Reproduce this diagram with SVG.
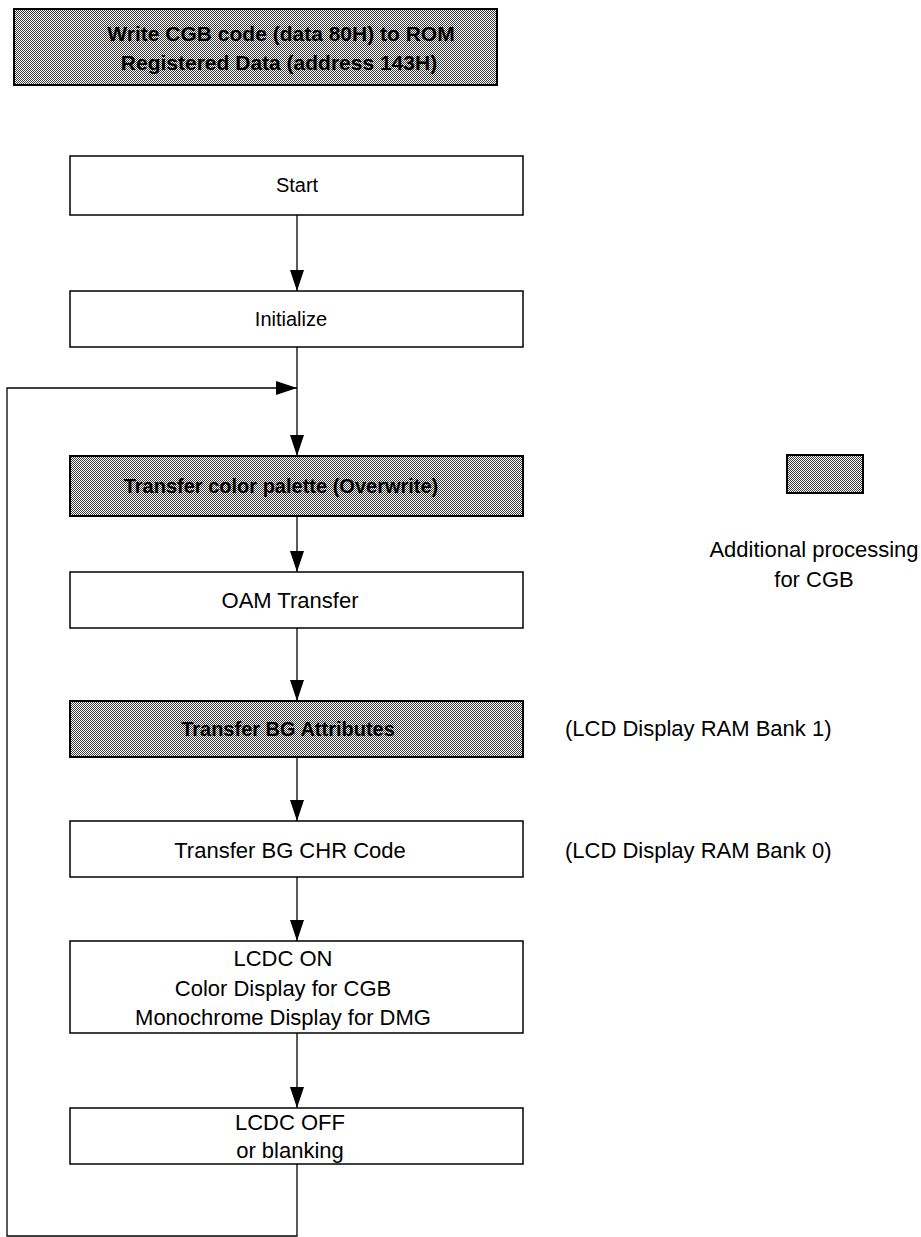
<svg xmlns="http://www.w3.org/2000/svg" width="921" height="1237" viewBox="0 0 921 1237">
<style>
.box{fill:#fff;stroke:#000;stroke-width:1.5}
.sh{fill:url(#dither);stroke:#000;stroke-width:2}
.t{font-family:"Liberation Sans",Arial,sans-serif;font-size:22px;fill:#000;text-anchor:middle;dominant-baseline:central}
.ts{font-family:"Liberation Sans",Arial,sans-serif;font-size:20px;fill:#000;text-anchor:middle;dominant-baseline:central}
.tb{font-family:"Liberation Sans",Arial,sans-serif;font-size:20px;font-weight:bold;fill:#000;text-anchor:middle;dominant-baseline:central}
.tl{font-family:"Liberation Sans",Arial,sans-serif;font-size:22px;fill:#000;dominant-baseline:central}
.c{fill:none;stroke:#000;stroke-width:1.3}
</style>
<defs>
<pattern id="dither" width="2" height="2" patternUnits="userSpaceOnUse">
<rect width="2" height="2" fill="#fff"/>
<rect x="0" y="0" width="1" height="1" fill="#3a3a3a"/>
<rect x="1" y="1" width="1" height="1" fill="#3a3a3a"/>
</pattern>
<marker id="ah" markerWidth="21" markerHeight="14" refX="21" refY="7" orient="auto" markerUnits="userSpaceOnUse">
<path d="M0,0 L21,7 L0,14 Z" fill="#000"/>
</marker>
</defs>
<g id="connectors">
<line class="c" x1="297" y1="215" x2="297" y2="291" marker-end="url(#ah)"/>
<line class="c" x1="297" y1="347" x2="297" y2="456" marker-end="url(#ah)"/>
<polyline class="c" points="297,1164 297,1236 7,1236 7,388 297,388" marker-end="url(#ah)"/>
<line class="c" x1="297" y1="516" x2="297" y2="572" marker-end="url(#ah)"/>
<line class="c" x1="297" y1="628" x2="297" y2="701" marker-end="url(#ah)"/>
<line class="c" x1="297" y1="757" x2="297" y2="821" marker-end="url(#ah)"/>
<line class="c" x1="297" y1="877" x2="297" y2="941" marker-end="url(#ah)"/>
<line class="c" x1="297" y1="1033" x2="297" y2="1108" marker-end="url(#ah)"/>
</g>
<g id="banner">
<rect class="sh" x="14" y="9" width="483" height="76"/>
<text class="tb" x="281" y="33" style="font-size:21px">Write CGB code (data 80H) to ROM</text>
<text class="tb" x="279" y="62" style="font-size:21px">Registered Data (address 143H)</text>
</g>
<g id="start">
<rect class="box" x="70" y="156" width="453" height="59"/>
<text class="ts" x="297" y="185">Start</text>
</g>
<g id="initialize">
<rect class="box" x="70" y="291" width="453" height="56"/>
<text class="ts" x="291" y="319">Initialize</text>
</g>
<g id="palette">
<rect class="sh" x="70" y="456" width="453" height="60"/>
<text class="tb" x="281" y="486">Transfer color palette (Overwrite)</text>
</g>
<g id="oam">
<rect class="box" x="70" y="572" width="453" height="56"/>
<text class="t" x="290" y="600">OAM Transfer</text>
</g>
<g id="bgattr">
<rect class="sh" x="70" y="701" width="453" height="56"/>
<text class="tb" x="288" y="729">Transfer BG Attributes</text>
</g>
<g id="bgchr">
<rect class="box" x="70" y="821" width="453" height="56"/>
<text class="t" x="290" y="850">Transfer BG CHR Code</text>
</g>
<g id="lcdcon">
<rect class="box" x="70" y="941" width="453" height="92"/>
<text class="t" x="283" y="958">LCDC ON</text>
<text class="t" x="283" y="988">Color Display for CGB</text>
<text class="t" x="283" y="1017">Monochrome Display for DMG</text>
</g>
<g id="lcdcoff">
<rect class="box" x="70" y="1108" width="453" height="56"/>
<text class="t" x="290" y="1122">LCDC OFF</text>
<text class="t" x="290" y="1150">or blanking</text>
</g>
<g id="legend">
<rect class="sh" x="787" y="455" width="76" height="38"/>
<text class="t" x="814" y="549">Additional processing</text>
<text class="t" x="814" y="579">for CGB</text>
</g>
<g id="notes">
<text class="tl" x="565" y="728">(LCD Display RAM Bank 1)</text>
<text class="tl" x="565" y="850">(LCD Display RAM Bank 0)</text>
</g>
</svg>
